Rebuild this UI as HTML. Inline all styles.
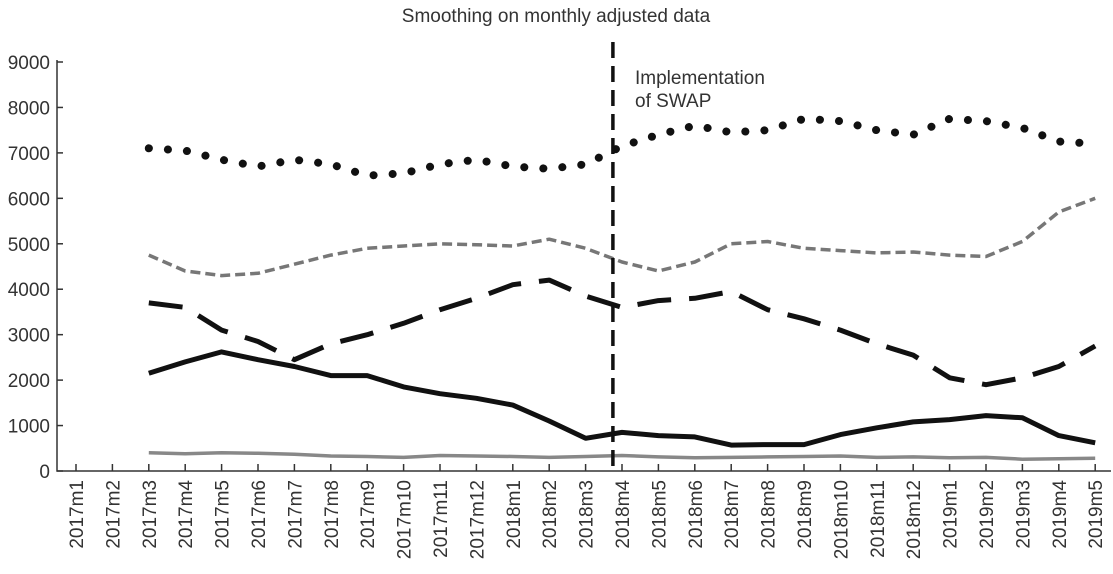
<!DOCTYPE html>
<html><head><meta charset="utf-8"><style>
body{margin:0;background:#fff}
svg{display:block;font-family:"Liberation Sans",sans-serif}
</style></head><body>
<svg id="c" width="1113" height="574"></svg>
<script>
const categories=[];
for(const y of [2017,2018,2019]){for(let m=1;m<=12;m++){if(y===2019&&m>5)break;categories.push(y+"m"+m);}}
const yTicks=[0,1000,2000,3000,4000,5000,6000,7000,8000,9000];
const startIndex=2;
const seriesDotted=[7100,7050,6850,6700,6850,6750,6500,6550,6750,6850,6700,6650,6750,7150,7400,7600,7450,7500,7750,7700,7500,7400,7750,7700,7550,7250,7200];
const seriesGrayDash=[4750,4400,4300,4350,4550,4750,4900,4950,5000,4980,4950,5100,4900,4600,4400,4600,5000,5050,4900,4850,4800,4820,4750,4720,5050,5700,6000];
const seriesLongDash=[3700,3600,3100,2850,2450,2800,3000,3250,3550,3800,4100,4200,3850,3600,3750,3800,3950,3550,3350,3100,2800,2550,2050,1900,2050,2300,2750];
const seriesSolid=[2150,2400,2620,2450,2300,2100,2100,1850,1700,1600,1450,1100,720,850,780,750,570,580,580,800,950,1080,1130,1220,1170,780,620];
const seriesGraySolid=[400,380,400,390,370,330,320,300,340,330,320,300,320,340,310,290,300,310,320,330,300,310,290,300,260,270,280];
const eventIndex=14.75;
const ns="http://www.w3.org/2000/svg",svg=document.getElementById('c');
const x0=76,dx=36.4,yBase=471,yPer=409/9000;
const X=i=>x0+i*dx, Y=v=>yBase-v*yPer;
function el(t,a,p){const e=document.createElementNS(ns,t);for(const k in a)e.setAttribute(k,a[k]);(p||svg).appendChild(e);return e;}
const title=el('text',{x:556,y:22,'text-anchor':'middle','font-size':19,fill:'#333'});title.textContent='Smoothing on monthly adjusted data';


const ax=el('path',{d:`M57,60V${yBase}H1111`,stroke:'#333','stroke-width':1.5,fill:'none'});


yTicks.forEach(v=>{const y=Y(v);el('line',{x1:57,x2:63,y1:y,y2:y,stroke:'#333','stroke-width':1.5});
const t=el('text',{x:50,y:y+7,'text-anchor':'end','font-size':19,fill:'#333'});t.textContent=v;

});
categories.forEach((c,i)=>{const x=X(i);el('line',{x1:x,x2:x,y1:yBase,y2:yBase-7,stroke:'#333','stroke-width':1.5});
const t=el('text',{transform:`translate(${x+7},${yBase+9}) rotate(-90)`,'text-anchor':'end','font-size':19,fill:'#333'});t.textContent=c;

});
function line(data,style,name){const d=data.map((v,i)=>(i?'L':'M')+X(i+startIndex).toFixed(1)+','+Y(v).toFixed(1)).join('');
const p=el('path',Object.assign({d,fill:'none','stroke-linejoin':'round'},style));

}
line(seriesGraySolid,{stroke:'#888','stroke-width':3.5},'series-gray-solid');
line(seriesSolid,{stroke:'#111','stroke-width':5},'series-black-solid');
line(seriesLongDash,{stroke:'#111','stroke-width':5,'stroke-dasharray':'34 18'},'series-black-longdash');
line(seriesGrayDash,{stroke:'#777','stroke-width':3.5,'stroke-dasharray':'10 5'},'series-gray-dash');
line(seriesDotted,{stroke:'#111','stroke-width':8,'stroke-dasharray':'0.1 19','stroke-linecap':'round'},'series-black-dotted');
const ev=el('line',{x1:X(eventIndex),x2:X(eventIndex),y1:42,y2:yBase,stroke:'#111','stroke-width':3.5,'stroke-dasharray':'16 8'});


const a=el('text',{x:635,y:84,'font-size':19,fill:'#333'});


const t1=el('tspan',{x:635,dy:0},a);t1.textContent='Implementation';
const t2=el('tspan',{x:635,dy:23},a);t2.textContent='of SWAP';
</script>
</body></html>
